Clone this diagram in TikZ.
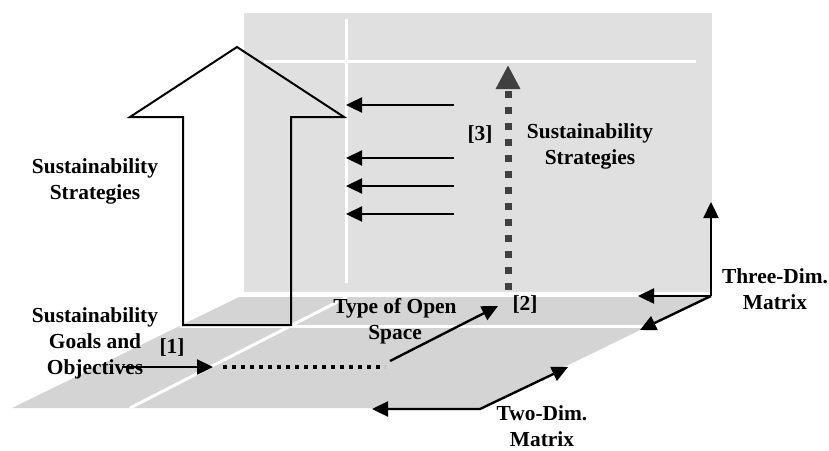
\documentclass[tikz,border=0pt]{standalone}
\usepackage{fontspec}
\setmainfont{Liberation Serif}
\usetikzlibrary{arrows.meta, positioning}
\definecolor{PanelGray}{HTML}{E0E0E0}
\definecolor{FloorGray}{HTML}{D4D4D4}
\definecolor{DotDark}{HTML}{404040}

\begin{document}
\begin{tikzpicture}[x=0.5pt, y=-0.5pt,
        lbl/.style={align=center, font=\fontsize{10.7}{13}\selectfont\bfseries, inner sep=0pt},
        arrow/.style={-{Triangle[length=8pt,width=7.5pt]}, line width=1.2pt, black},
        twoway/.style={{Triangle[length=8pt,width=7.5pt]}-{Triangle[length=8pt,width=7.5pt]}, line width=1.2pt, black},
        gridline/.style={white, line width=1.5pt},
        dotarrow/.style={-{Triangle[length=12pt,width=11.5pt]}, DotDark, line width=3.5pt, dash pattern=on 3.5pt off 4.5pt}]

    \useasboundingbox (0,0) rectangle (829,450);

    % back panel and floor
    \fill[PanelGray] (244,13) rectangle (712,292);
    \draw[gridline] (346,19) -- (346,283);
    \draw[gridline] (264,61) -- (696,61);

    \coordinate (fbl) at (12,408);
    \coordinate (fbr) at (480,408);
    \coordinate (ftr) at (708,297);
    \coordinate (ftl) at (239,297);
    \fill[FloorGray] (fbl) -- (fbr) -- (ftr) -- (ftl) -- cycle;
    \draw[gridline] (347,297) -- (130,408);
    \draw[gridline] (180,326) -- (649,326);

    % big hollow arrow
    \draw[line width=1pt, line join=miter] (183,325) -- (183,117) -- (130,117) -- (237,47)
        -- (344,117) -- (291,117) -- (291,325) -- cycle;

    % small arrows into the big one
    \foreach \y [count=\i] in {105,158,186,214} {
        \coordinate (as\i) at (454,\y);
        \coordinate (ae\i) at (346,\y);
        \draw[arrow] (as\i) -- (ae\i);
    }

    % labels
    \node[lbl] (stratL) at (95,181) {Sustainability\\Strategies};
    \node[lbl] (goals) at (95,343) {Sustainability\\Goals and\\Objectives};
    \node[lbl] (one) at (172,347) {[1]};
    \node[lbl] (space) at (395,321) {Type of Open\\Space};
    \node[lbl] (two) at (525,305) {[2]};
    \node[lbl] (three) at (480,135) {[3]};
    \node[lbl] (stratR) at (590,146) {Sustainability\\Strategies};
    \node[lbl] (threedim) at (775,289) {Three-Dim.\\Matrix};
    \node[lbl] (twodim) at (542,426) {Two-Dim.\\Matrix};

    % path [1] -> [2] -> [3]
    \coordinate (in) at (122,367);
    \coordinate (inend) at (213,367);
    \coordinate (dotstart) at (223,367);
    \coordinate (dotend) at (385,367);
    \coordinate (up) at (390,361);
    \coordinate (upend) at (498,306);
    \coordinate (vs) at (508,290);
    \coordinate (ve) at (508,65);
    \draw[arrow] (in) -- (inend);
    \draw[line width=2pt, dash pattern=on 2pt off 2.5pt] (dotstart) -- (dotend);
    \draw[arrow] (up) -- (upend);
    \draw[dotarrow] (vs) -- (ve);

    % matrix axes
    \coordinate (corner) at (711,296);
    \coordinate (zup) at (711,202);
    \coordinate (xleft) at (638,296);
    \coordinate (ydown) at (640,330);
    \draw[arrow] (corner) -- (zup);
    \draw[arrow] (corner) -- (xleft);
    \draw[arrow] (corner) -- (ydown);
    \draw[twoway, line join=miter] (568,367) -- (480,409) -- (372,409);
\end{tikzpicture}
\end{document}
